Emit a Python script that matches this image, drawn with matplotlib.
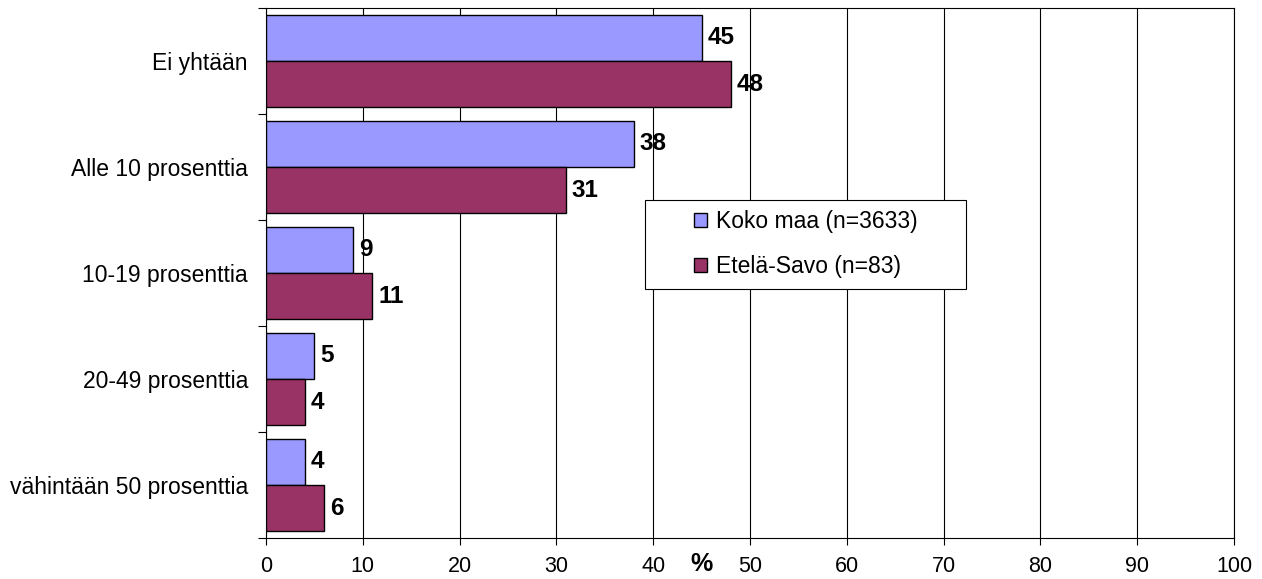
import numpy as np
import matplotlib.pyplot as plt
from matplotlib.patches import Rectangle

plt.rcParams['font.family'] = ['Liberation Sans', 'DejaVu Sans']

categories = ['Ei yhtään', 'Alle 10 prosenttia', '10-19 prosenttia',
              '20-49 prosenttia', 'vähintään 50 prosenttia']
koko_maa = [45, 38, 9, 5, 4]
etela_savo = [48, 31, 11, 4, 6]
series_labels = ['Koko maa (n=3633)', 'Etelä-Savo (n=83)']
colors = ['#9999FF', '#993366']

fig = plt.figure(figsize=(12.62, 5.79), dpi=100)
ax = fig.add_axes([266 / 1262, 1 - 538 / 579, 968 / 1262, 530 / 579])

y = np.arange(len(categories))
h = 0.435
b1 = ax.barh(y - h / 2, koko_maa, height=h, color=colors[0], edgecolor='black',
             linewidth=1, label=series_labels[0], zorder=3)
b2 = ax.barh(y + h / 2, etela_savo, height=h, color=colors[1], edgecolor='black',
             linewidth=1, label=series_labels[1], zorder=3)

# value labels
for bars, vals in [(b1, koko_maa), (b2, etela_savo)]:
    for bar, v in zip(bars, vals):
        ax.text(v + 0.6, bar.get_y() + bar.get_height() / 2, str(v),
                va='center', ha='left', fontsize=17.5, fontweight='bold')

ax.set_xlim(0, 100)
ax.set_ylim(len(categories) - 0.5, -0.5)
ax.set_xticks(range(0, 101, 10))
ax.tick_params(axis='x', labelsize=15.5, direction='out', length=5, pad=8)

# y ticks at category boundaries, labels centered
ax.set_yticks(np.arange(-0.5, len(categories), 1))
ax.set_yticklabels([])
ax.set_yticks(y, minor=True)
ax.set_yticklabels(categories, minor=True, fontsize=16.5)
ax.tick_params(axis='y', which='major', direction='out', length=6)
ax.tick_params(axis='y', which='minor', length=0, pad=13)

ax.grid(axis='x', color='black', linewidth=0.8, zorder=0)
for s in ax.spines.values():
    s.set_linewidth(0.8)
    s.set_color('black')

ax.text(45, -0.026, '%', transform=ax.get_xaxis_transform(), ha='center',
        va='top', fontsize=18, fontweight='bold')

# legend box
ax.add_patch(Rectangle((0.3915, 0.4698), 0.3315, 0.1679, transform=ax.transAxes,
                       facecolor='white', edgecolor='black', linewidth=0.8,
                       zorder=5))
leg = ax.legend(loc='center', bbox_to_anchor=(0.558, 0.5547), fontsize=16.5,
                frameon=False, handlelength=0.55, handleheight=0.55,
                handletextpad=0.4, labelspacing=0.95, borderaxespad=0)
leg.set_zorder(6)

fig.savefig('out.png', dpi=100)
